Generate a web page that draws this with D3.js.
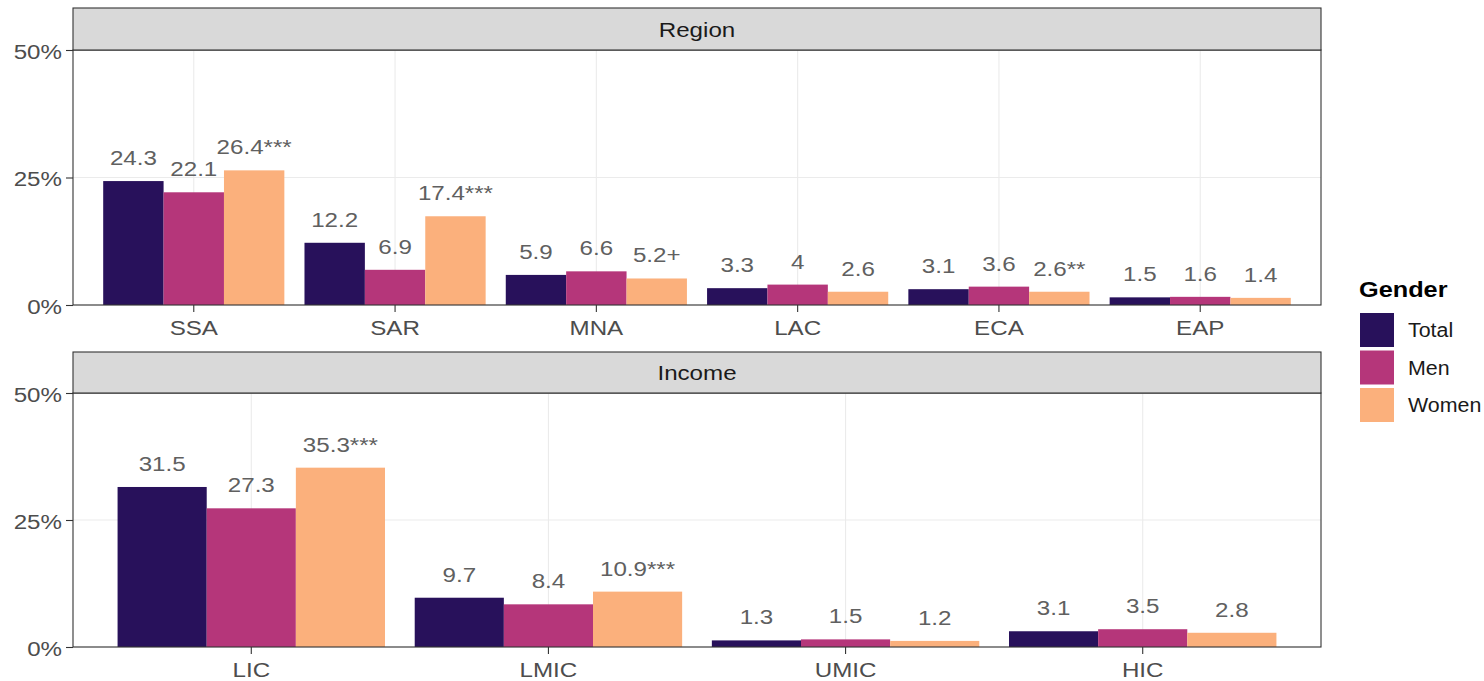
<!DOCTYPE html>
<html>
<head>
<meta charset="utf-8">
<script src="https://cdn.jsdelivr.net/npm/d3@7"></script>
<style>
  html, body { margin: 0; padding: 0; background: #ffffff; }
  svg { display: block; font-family: "Liberation Sans", Arial, sans-serif; }
</style>
</head>
<body>
<svg id="chart" width="1484" height="681"></svg>
<script>
// ---- data ----
const genders = ["Total", "Men", "Women"];
const genderColors = ["#28115b", "#b5367a", "#fbb07c"];

const regionCats = ["SSA", "SAR", "MNA", "LAC", "ECA", "EAP"];
const regionTotal = [24.3, 12.2, 5.9, 3.3, 3.1, 1.5];
const regionMen = [22.1, 6.9, 6.6, 4, 3.6, 1.6];
const regionWomen = [26.4, 17.4, 5.2, 2.6, 2.6, 1.4];
const regionWomenSig = ["***", "***", "+", "", "**", ""];

const incomeCats = ["LIC", "LMIC", "UMIC", "HIC"];
const incomeTotal = [31.5, 9.7, 1.3, 3.1];
const incomeMen = [27.3, 8.4, 1.5, 3.5];
const incomeWomen = [35.3, 10.9, 1.2, 2.8];
const incomeWomenSig = ["***", "***", "", ""];

const yTicks = [0, 25, 50];

// ---- layout ----
const svg = d3.select("#chart");
const SX = 1.15;          // horizontal text stretch
const FS = 21;            // base font size
const left = 73, right = 1321;

const panels = [
  { title: "Region", cats: regionCats, series: [regionTotal, regionMen, regionWomen],
    sig: [null, null, regionWomenSig], stripTop: 8, top: 50, bottom: 305 },
  { title: "Income", cats: incomeCats, series: [incomeTotal, incomeMen, incomeWomen],
    sig: [null, null, incomeWomenSig], stripTop: 352, top: 393, bottom: 647 }
];

function label(g, x, y, str, opts = {}) {
  return g.append("text")
    .attr("transform", `translate(${x},${y}) scale(${opts.sx || SX},1)`)
    .attr("text-anchor", opts.anchor || "middle")
    .attr("font-size", opts.size || FS)
    .attr("font-weight", opts.weight || "normal")
    .attr("fill", opts.fill || "#4d4d4d")
    .text(str);
}

panels.forEach(p => {
  const g = svg.append("g");
  const x = d3.scaleBand().domain(p.cats).range([left, right])
    .paddingInner(0).paddingOuter(0.1);
  const y = d3.scaleLinear().domain([0, 50]).range([p.bottom, p.top]);
  const barW = x.step() * 0.9;
  const xs = d3.scaleBand().domain(genders).range([0, barW]);

  // gridlines
  g.selectAll(".hg").data(yTicks).join("line")
    .attr("x1", left).attr("x2", right)
    .attr("y1", d => y(d)).attr("y2", d => y(d))
    .attr("stroke", "#ebebeb").attr("stroke-width", 1.1);
  g.selectAll(".vg").data(p.cats).join("line")
    .attr("x1", d => x(d) + x.step() / 2).attr("x2", d => x(d) + x.step() / 2)
    .attr("y1", p.top).attr("y2", p.bottom)
    .attr("stroke", "#ebebeb").attr("stroke-width", 1.1);

  // bars and value labels
  genders.forEach((gen, gi) => {
    const vals = p.series[gi];
    p.cats.forEach((c, ci) => {
      const v = vals[ci];
      const x0 = x(c) + x.step() * 0.05 + xs(gen);
      g.append("rect")
        .attr("x", x0).attr("width", xs.bandwidth())
        .attr("y", y(v)).attr("height", y(0) - y(v))
        .attr("fill", genderColors[gi]);
      const txt = String(v) + (p.sig[gi] ? p.sig[gi][ci] : "");
      label(g, x0 + xs.bandwidth() / 2, y(v) - 16, txt, { fill: "#606060" });
    });
  });

  // panel border
  g.append("rect")
    .attr("x", left).attr("y", p.top)
    .attr("width", right - left).attr("height", p.bottom - p.top)
    .attr("fill", "none").attr("stroke", "#333333").attr("stroke-width", 1.1);

  // strip
  g.append("rect")
    .attr("x", left).attr("y", p.stripTop)
    .attr("width", right - left).attr("height", p.top - p.stripTop)
    .attr("fill", "#d9d9d9").attr("stroke", "#333333").attr("stroke-width", 1.1);
  label(g, (left + right) / 2, (p.stripTop + p.top) / 2 + 7.5, p.title, { fill: "#1a1a1a" });

  // y axis
  const ya = g.append("g").attr("transform", `translate(${left},0)`)
    .call(d3.axisLeft(y).tickValues(yTicks).tickFormat(d => d + "%").tickSize(7).tickPadding(4));
  ya.select(".domain").remove();
  ya.selectAll(".tick line").attr("stroke", "#333333").attr("stroke-width", 1.1);
  ya.selectAll(".tick text")
    .attr("font-size", FS).attr("fill", "#4d4d4d")
    .attr("font-family", "Liberation Sans, Arial, sans-serif")
    .attr("x", -11 / SX).attr("dy", "0.4em")
    .attr("transform", `scale(${SX},1)`);

  // x axis
  const xa = g.append("g").attr("transform", `translate(0,${p.bottom})`)
    .call(d3.axisBottom(x).tickSize(7).tickPadding(8));
  xa.select(".domain").remove();
  xa.selectAll(".tick line").attr("stroke", "#333333").attr("stroke-width", 1.1);
  xa.selectAll(".tick text")
    .attr("font-size", FS).attr("fill", "#4d4d4d")
    .attr("font-family", "Liberation Sans, Arial, sans-serif")
    .attr("transform", `scale(${SX},1)`);
});

// ---- legend ----
const lg = svg.append("g");
label(lg, 1359, 297, "Gender", { anchor: "start", size: 22, weight: "bold", fill: "#000000" });
genders.forEach((gen, i) => {
  const ky = 313 + i * 37.5;
  lg.append("rect").attr("x", 1360).attr("y", ky).attr("width", 34).attr("height", 34)
    .attr("fill", genderColors[i]);
  label(lg, 1408, ky + 17 + 7, gen, { anchor: "start", size: 20, sx: 1.07, fill: "#1a1a1a" });
});
</script>
</body>
</html>
